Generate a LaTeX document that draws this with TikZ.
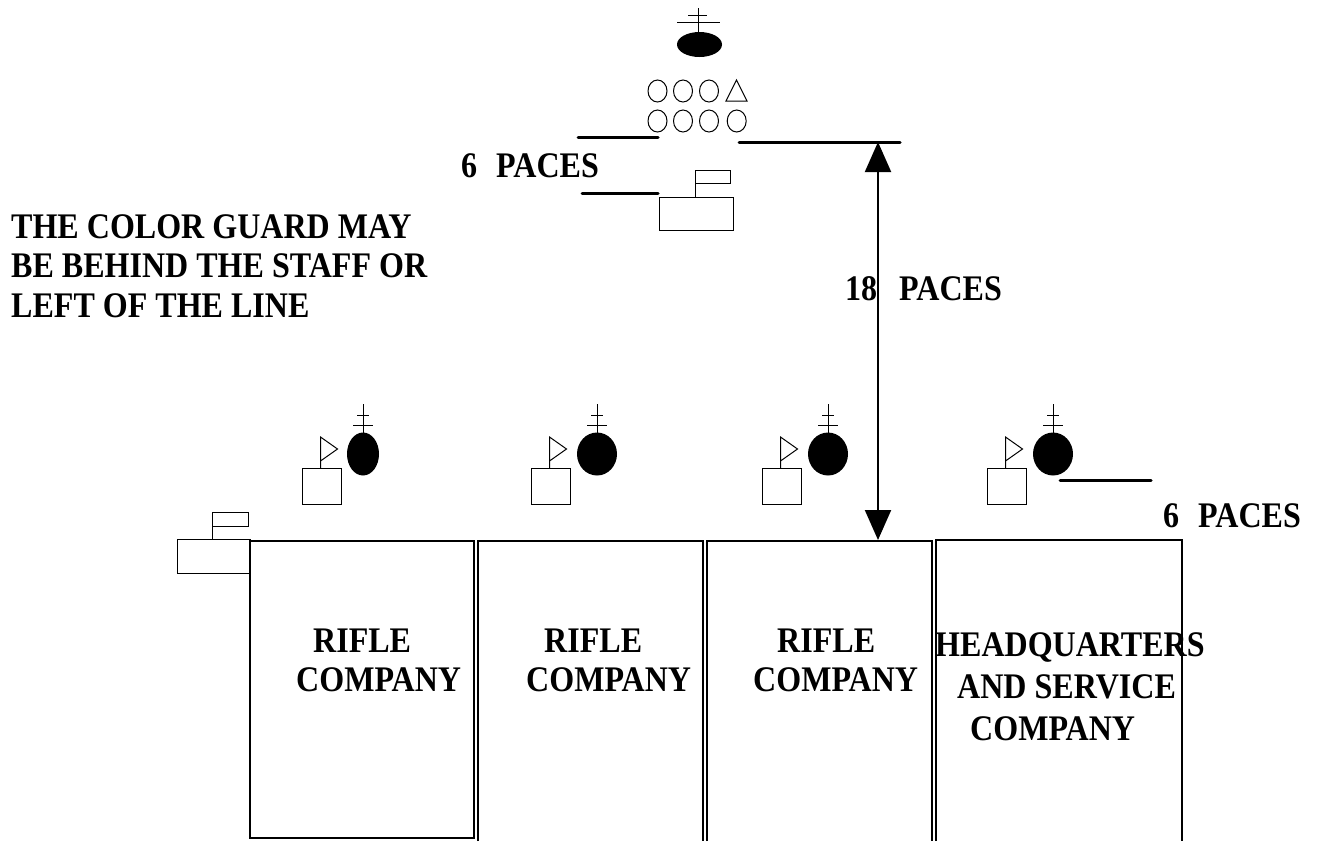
\documentclass[tikz,border=0pt]{standalone}
\usepackage{fontspec}
\setmainfont{Liberation Serif}[FakeStretch=0.89]
\usetikzlibrary{arrows.meta}
\newcommand\lblfont{\fontsize{36}{40}\selectfont\bfseries}
\tikzset{
  thickline/.style={line width=3pt, line cap=round},
  boxline/.style={line width=1.6pt},
  sym/.style={line width=1pt},
  lbl/.style={anchor=base west, inner sep=0pt, font=\lblfont},
  bigtip/.style={line width=2pt, {Triangle[length=30pt,width=26pt]}-{Triangle[length=30pt,width=26pt]}}
}
% company symbol: square left x, circle centre x, circle x radius
\newcommand\cosymbol[3]{%
  \draw[sym] (#1,468) rectangle ({#1+39},504);
  \draw[sym] ({#1+18.5},468) -- ({#1+18.5},437) -- ({#1+35.5},449) -- ({#1+18.5},461);
  \fill (#2,454) ellipse [x radius=#3, y radius=21.5];
  \draw[sym] (#2,404) -- (#2,433);
  \draw[sym] ({#2-6},415) -- ({#2+6},415);
  \draw[sym] ({#2-10},425) -- ({#2+10},425);
}
\begin{document}
\begin{tikzpicture}[x=1pt,y=-1pt]
\useasboundingbox (0,0) rectangle (1322,841);
\fill[white] (0,0) rectangle (1322,841);

% commander
\draw[sym] (698,8) -- (698,33);
\draw[sym] (688,15) -- (707,15);
\draw[sym] (677,22) -- (720,22);
\fill (699.5,44.5) ellipse [x radius=22.5, y radius=12.5];

% staff
\foreach \cx in {657.5,683,709} {
  \draw[sym] (\cx,91) ellipse [x radius=9.5, y radius=11];
}
\draw[sym] (736.5,80) -- (747,101) -- (726,101) -- cycle;
\foreach \cx in {657.5,683,709,736.7} {
  \draw[sym] (\cx,121) ellipse [x radius=9.5, y radius=11];
}

% pace lines
\coordinate (l1a) at (578,137); \coordinate (l1b) at (658,137);
\coordinate (l2a) at (739,142); \coordinate (l2b) at (900,142);
\coordinate (l3a) at (582,193); \coordinate (l3b) at (658,193);
\coordinate (l4a) at (1060,480); \coordinate (l4b) at (1151,480);
\draw[thickline] (l1a) -- (l1b);
\draw[thickline] (l2a) -- (l2b);
\draw[thickline] (l3a) -- (l3b);
\draw[thickline] (l4a) -- (l4b);

% color guard behind staff
\draw[sym] (695,170) rectangle (730,183);
\draw[sym] (695,183) -- (695,197);
\draw[sym] (659,197) rectangle (733,230);

% color guard left of line
\draw[sym] (212,512) rectangle (248,526);
\draw[sym] (212,526) -- (212,539);
\draw[sym] (177,539) rectangle (250,573);

% 18 paces arrow
\coordinate (atop) at (878,142);
\coordinate (abot) at (878,540);
\draw[bigtip] (atop) -- (abot);

% company symbols
\cosymbol{302}{363}{16}
\cosymbol{531}{597}{20}
\cosymbol{762}{828}{20}
\cosymbol{987}{1053}{20}

% company boxes
\draw[boxline] (250,541) rectangle (474,838);
\draw[boxline] (478,841) -- (478,541) -- (703,541) -- (703,841);
\draw[boxline] (707,841) -- (707,541) -- (932,541) -- (932,841);
\draw[boxline] (936,841) -- (936,540) -- (1182,540) -- (1182,841);

% labels
\node[lbl] (p6a) at (461,177) {6\hspace{19pt}PACES};
\node[lbl] (n1) at (11,238) {THE COLOR GUARD MAY};
\node[lbl] (n2) at (11,277) {BE BEHIND THE STAFF OR};
\node[lbl] (n3) at (11,317) {LEFT OF THE LINE};
\node[lbl] (p18) at (845,300) {18\hspace{22pt}PACES};
\node[lbl] (p6b) at (1163,527) {6\hspace{19pt}PACES};

\node[lbl] (r1a) at (313,652) {RIFLE};
\node[lbl] (r1b) at (296,691) {COMPANY};
\node[lbl] (r2a) at (544,652) {RIFLE};
\node[lbl] (r2b) at (526,691) {COMPANY};
\node[lbl] (r3a) at (777,652) {RIFLE};
\node[lbl] (r3b) at (753,691) {COMPANY};
\node[lbl] (h1) at (935,656) {HEADQUARTERS};
\node[lbl] (h2) at (957,698) {AND SERVICE};
\node[lbl] (h3) at (970,740) {COMPANY};
\end{tikzpicture}
\end{document}
